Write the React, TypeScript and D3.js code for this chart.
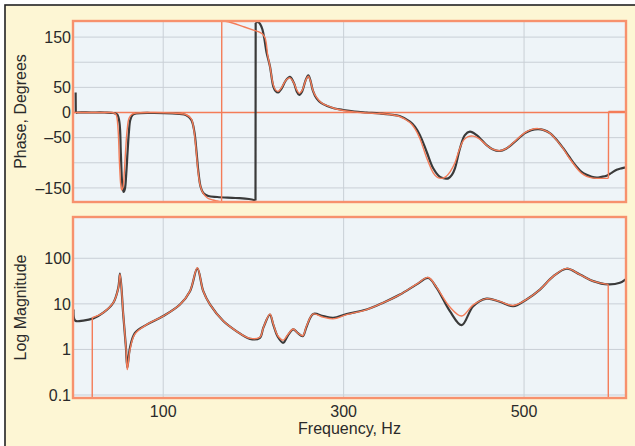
import React from "react";
import * as d3 from "d3";

// Frequency response: measured (dark) vs. model (orange)
type Pt = [number, number];

const freqTicks = [100, 300, 500];
const phaseTicks = [150, 50, 0, -50, -150];
const phaseGrid = [-150, -100, -50, 50, 100, 150];
const magTicks = [100, 10, 1, 0.1];
const magTickLabels = ["100", "10", "1", "0.1"];

const measuredPhase: Pt[] = [
  [2.9, 40], [3.1, -1], [5, 0], [20, 0], [35, 0], [45, -1], [49, -4], [51.5, -20], [53, -80],
  [54.5, -140], [56, -158], [57.5, -152], [59, -122], [60.5, -78], [62, -38], [63.5, -15],
  [66, -5], [70, -2], [90, -1], [110, -2], [125, -5], [131, -14], [134.5, -38], [137, -80], [139, -118],
  [141.5, -148], [144.4, -160], [150, -166], [160, -168], [180, -170], [195, -172],
  [202.3, -175], [202.5, 178], [205, 180], [207.5, 176], [210, 165], [212, 148],
  [214.5, 120], [218.3, 92], [222, 52], [224.5, 43], [227.5, 40], [231, 47], [236, 64],
  [240.5, 71], [245, 58], [248, 42], [250.8, 35], [254, 42], [258, 65], [260.8, 74],
  [263, 65], [266, 43], [270, 28], [275, 19], [281, 13.5], [290, 8], [299.6, 5], [312, 2],
  [325.5, 0], [340, -2], [351.3, -4], [362, -7], [373.5, -18], [379, -28], [384.6, -45],
  [392, -78], [399.3, -111], [406.7, -128], [412, -131], [416, -131], [420, -124],
  [423.4, -111], [429, -71], [434.4, -45], [440, -38], [447.4, -45], [458.5, -65],
  [465, -73], [473.2, -76.5], [480, -72], [488, -61], [501, -41], [508, -35], [515.8, -33],
  [522, -35], [528.6, -41], [536, -54], [543.4, -71], [550, -88], [556.4, -104], [563, -117],
  [569.3, -124], [575, -128], [580.4, -129.6], [586, -128], [591.5, -125.6], [597, -120],
  [602.6, -114], [608, -111], [613, -109],
];

const modelPhase: Pt[] = [
  [0, 0], [20, 0], [40, 0], [46, -1], [48, -5], [50, -35], [51.5, -100], [53, -145],
  [54, -154], [55.5, -148], [57, -115], [58.5, -70], [60, -35], [62, -12], [65, -4], [70, -1], [90, 0],
  [110, -1], [125, -4], [131, -12], [134, -35], [136.5, -75], [138.5, -115], [141, -145],
  [144, -160], [149, -170], [155, -174], [160, -176], [164.7, -178], [164.9, 182],
  [172, 180.5], [190, 170], [200, 164], [205, 161], [210, 156], [213, 148], [216, 112],
  [218.3, 92], [222, 55], [224.5, 45], [227.5, 42], [231, 49], [236, 64], [240.5, 69],
  [245, 58], [248, 45], [250.8, 38], [254, 44], [258, 64], [260.8, 72], [263, 64], [266, 44],
  [270, 30], [275, 20], [281, 14], [290, 8], [299.6, 4], [312, 1], [325.5, -1], [340, -2],
  [351.3, -4], [362, -8], [373.5, -20], [379, -32], [384.6, -52], [392, -90], [399.3, -120],
  [404, -129], [408.6, -131], [413, -128], [418, -118], [423.4, -100], [428, -75],
  [433, -55], [438, -48], [443.6, -47], [450, -52], [458.5, -65], [465, -73], [473.2, -76],
  [480, -72], [488, -60], [501, -40], [508, -34], [515.8, -32], [522, -35], [528.6, -41],
  [536, -55], [543.4, -72], [550, -90], [556.4, -106], [563, -120], [569.3, -127], [575, -130],
  [580.4, -131], [586, -131], [593.5, -131], [593.7, 2], [613, 2],
];

const measuredMag: Pt[] = [
  [0.6, 7.5], [2.4, 4.3], [11.4, 4.3], [22.5, 4.8], [33.6, 6.4], [44.7, 10.6], [50.2, 22.5],
  [52.1, 46], [55.7, 5.8], [58.7, 1.09], [60.2, 0.4], [63.2, 1.1], [68.7, 2.3], [81.7, 3.5],
  [100, 5.4], [118.6, 9.7], [129.7, 19], [137.8, 60], [144.4, 19], [151.8, 9.7], [166.6, 4.2],
  [181.4, 2.5], [196.2, 1.7], [207.2, 1.8], [211, 3.0], [218.3, 5.8], [222, 3.5], [227, 1.9],
  [233.1, 1.4], [238, 2.0], [244.2, 2.75], [249, 2.3], [254.6, 1.95], [259, 3.2], [266.3, 6.0],
  [277.4, 5.4], [288.5, 4.95], [303.3, 6.0], [325.5, 7.5], [343.9, 10.6], [362.4, 16],
  [380.9, 26.7], [393.8, 37], [403.1, 22.5], [417.8, 6.9], [430.8, 3.4], [443.6, 8.9],
  [458.5, 13], [473.2, 11.1], [488, 8.9], [502.8, 12.5], [517.6, 20.6], [532.3, 40],
  [547.2, 59], [561.9, 44], [576.6, 31.5], [593.3, 26.7], [606.2, 29], [613, 35],
];

const modelMag: Pt[] = [
  [0, 0.01], [21.3, 0.01], [21.4, 4.95], [33.6, 6.4], [44.7, 10.6], [50.2, 22], [52.1, 45],
  [55.7, 6], [58.7, 1.1], [60.2, 0.36], [63.2, 1.0], [68.7, 2.2], [81.7, 3.5], [100, 5.4],
  [118.6, 9.7], [129.7, 19], [137.8, 62], [144.4, 19], [151.8, 9.7], [166.6, 4.2],
  [181.4, 2.5], [196.2, 1.75], [207.2, 1.85], [211, 3.0], [218.3, 6.0], [222, 3.6],
  [227, 2.0], [233.1, 1.6], [238, 2.1], [244.2, 2.8], [249, 2.3], [254.6, 2.0], [259, 3.3],
  [266.3, 6.0], [277.4, 5.1], [288.5, 4.7], [303.3, 5.8], [325.5, 7.5], [343.9, 10.6],
  [362.4, 16], [380.9, 27], [393.8, 38], [403.1, 23], [417.8, 8.5], [430.8, 5.4],
  [443.6, 9.5], [458.5, 13], [473.2, 11.3], [488, 9.2], [502.8, 12.5], [517.6, 20.6],
  [532.3, 40], [547.2, 60], [561.9, 44], [576.6, 31.5], [593.3, 26.7], [593.4, 0.01],
  [613, 0.01],
];

const W = 635;
const H = 446;
const left = 73;
const right = 626;
const phaseTop = 21;
const phaseBottom = 202;
const magTop = 217;
const magBottom = 398;

const cream = "#FDF6D4";
const plotBg = "#EEF4F8";
const gridColor = "#C9CFD6";
const frameOrange = "#F7916D";
const modelColor = "#F47C58";
const measuredColor = "#3A3A3A";
const textColor = "#2A2A2A";
const font = "'Liberation Sans', Arial, Helvetica, sans-serif";

// Split a series where the frequency barely advances (phase wraps, dropouts),
// so that smooth runs are curved and the jumps between them stay straight.
function buildPath(data: Pt[], sx: (v: number) => number, sy: (v: number) => number): string {
  const smooth = d3
    .line<Pt>()
    .x((d) => sx(d[0]))
    .y((d) => sy(d[1]))
    .curve(d3.curveCatmullRom.alpha(0.5));
  const runs: Pt[][] = [[data[0]]];
  for (let i = 1; i < data.length; i++) {
    const prev = data[i - 1];
    const cur = data[i];
    if (cur[0] - prev[0] < 0.35) {
      runs.push([cur]);
    } else {
      runs[runs.length - 1].push(cur);
    }
  }
  let d = "";
  runs.forEach((run, i) => {
    if (i > 0) {
      const a = runs[i - 1][runs[i - 1].length - 1];
      const b = run[0];
      d += `M${sx(a[0])},${sy(a[1])}L${sx(b[0])},${sy(b[1])}`;
    }
    if (run.length > 1) d += smooth(run) ?? "";
  });
  return d;
}

export default function App() {
  const x = d3.scaleLinear().domain([0, 613]).range([left, right]);
  const yPhase = d3.scaleLinear().domain([-178, 182]).range([phaseBottom, phaseTop]);
  const yMag = d3.scaleLog().domain([0.086, 805]).range([magBottom, magTop]);
  const yMagSafe = (v: number) => yMag(Math.max(v, 0.02));

  const panel = (top: number, bottom: number) => (
    <rect x={left} y={top} width={right - left} height={bottom - top} fill={plotBg} />
  );

  return (
    <svg width={W} height={H} style={{ display: "block", position: "absolute", left: 0, top: 0 }}>
      <defs>
        <clipPath id="clipPhase">
          <rect x={left} y={phaseTop} width={right - left} height={phaseBottom - phaseTop} />
        </clipPath>
        <clipPath id="clipMag">
          <rect x={left} y={magTop} width={right - left} height={magBottom - magTop} />
        </clipPath>
      </defs>
      <rect width={W} height={H} fill="#ffffff" />
      <rect x={5} y={5} width={W + 10} height={H + 10} fill={cream} stroke="#222" strokeWidth={1.6} />

      {/* Phase panel */}
      {panel(phaseTop, phaseBottom)}
      {phaseGrid.map((v) => (
        <line key={v} x1={left} x2={right} y1={yPhase(v)} y2={yPhase(v)} stroke={gridColor} strokeWidth={1} />
      ))}
      {freqTicks.map((f) => (
        <line key={f} x1={x(f)} x2={x(f)} y1={phaseTop} y2={phaseBottom} stroke={gridColor} strokeWidth={1} />
      ))}
      <line x1={left} x2={right} y1={yPhase(0)} y2={yPhase(0)} stroke={modelColor} strokeWidth={1.4} />
      <g clipPath="url(#clipPhase)" fill="none" strokeLinejoin="round">
        <path d={buildPath(measuredPhase, x, yPhase)} stroke={measuredColor} strokeWidth={2.2} />
        <path d={buildPath(modelPhase, x, yPhase)} stroke={modelColor} strokeWidth={1.4} />
      </g>
      <rect x={left} y={phaseTop} width={right - left} height={phaseBottom - phaseTop} fill="none" stroke={frameOrange} strokeWidth={2.4} />

      {/* Magnitude panel */}
      {panel(magTop, magBottom)}
      {magTicks.map((v) => (
        <line key={v} x1={left} x2={right} y1={yMag(v)} y2={yMag(v)} stroke={gridColor} strokeWidth={1} />
      ))}
      {freqTicks.map((f) => (
        <line key={f} x1={x(f)} x2={x(f)} y1={magTop} y2={magBottom} stroke={gridColor} strokeWidth={1} />
      ))}
      <g clipPath="url(#clipMag)" fill="none" strokeLinejoin="round">
        <path d={buildPath(measuredMag, x, yMagSafe)} stroke={measuredColor} strokeWidth={2.2} />
        <path d={buildPath(modelMag, x, yMagSafe)} stroke={modelColor} strokeWidth={1.4} />
      </g>
      <rect x={left} y={magTop} width={right - left} height={magBottom - magTop} fill="none" stroke={frameOrange} strokeWidth={2.4} />

      {/* Axis labels */}
      <g fontFamily={font} fontSize={16} fill={textColor}>
        {phaseTicks.map((v) => (
          <text key={v} x={71} y={yPhase(v)} dy="0.36em" textAnchor="end">
            {v < 0 ? `\u2013${Math.abs(v)}` : v}
          </text>
        ))}
        {magTicks.map((v, i) => (
          <text key={v} x={71} y={yMag(v)} dy="0.36em" textAnchor="end">
            {magTickLabels[i]}
          </text>
        ))}
        {freqTicks.map((f) => (
          <text key={f} x={x(f)} y={417} textAnchor="middle">
            {f}
          </text>
        ))}
        <text x={(left + right) / 2} y={434} textAnchor="middle">
          Frequency, Hz
        </text>
        <text transform={`translate(26, ${(phaseTop + phaseBottom) / 2}) rotate(-90)`} textAnchor="middle">
          Phase, Degrees
        </text>
        <text transform={`translate(26, ${(magTop + magBottom) / 2}) rotate(-90)`} textAnchor="middle">
          Log Magnitude
        </text>
      </g>
    </svg>
  );
}
